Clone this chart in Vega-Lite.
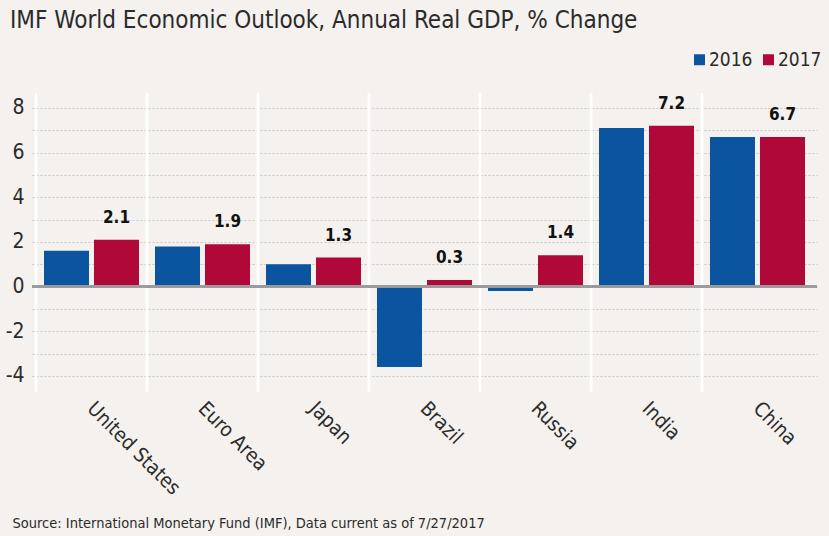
{
  "$schema": "https://vega.github.io/schema/vega-lite/v6.json",
  "width": 785,
  "height": 299,
  "autosize": {"type": "none"},
  "padding": {"left": 32, "top": 93, "right": 12, "bottom": 144},
  "background": "#f4f1ee",
  "config": {"view": {"stroke": null}, "font": "DejaVu Sans Condensed"},
  "title": {
    "text": "IMF World Economic Outlook, Annual Real GDP, % Change",
    "anchor": "start",
    "frame": "group",
    "dx": -22,
    "dy": 20,
    "offset": 18,
    "baseline": "alphabetic",
    "fontSize": 24,
    "fontWeight": "normal",
    "color": "#2b2b2b",
    "font": "DejaVu Sans Condensed"
  },
  "data": {
    "values": [
      {"region": "United States", "year": "2016", "value": 1.6},
      {"region": "United States", "year": "2017", "value": 2.1},
      {"region": "Euro Area", "year": "2016", "value": 1.8},
      {"region": "Euro Area", "year": "2017", "value": 1.9},
      {"region": "Japan", "year": "2016", "value": 1.0},
      {"region": "Japan", "year": "2017", "value": 1.3},
      {"region": "Brazil", "year": "2016", "value": -3.6},
      {"region": "Brazil", "year": "2017", "value": 0.3},
      {"region": "Russia", "year": "2016", "value": -0.2},
      {"region": "Russia", "year": "2017", "value": 1.4},
      {"region": "India", "year": "2016", "value": 7.1},
      {"region": "India", "year": "2017", "value": 7.2},
      {"region": "China", "year": "2016", "value": 6.7},
      {"region": "China", "year": "2017", "value": 6.7}
    ]
  },
  "encoding": {
    "x": {
      "field": "region",
      "type": "nominal",
      "sort": null,
      "scale": {"paddingInner": 0, "paddingOuter": 0.036},
      "axis": {
        "labelOffset": 6,
        "labelAngle": 45,
        "labelAlign": "left",
        "labelBaseline": "top",
        "labelPadding": 6,
        "labelFontSize": 20,
        "labelColor": "#2b2b2b",
        "domain": false,
        "ticks": false,
        "grid": false,
        "title": "Source: International Monetary Fund (IMF), Data current as of 7/27/2017",
        "titleX": -20,
        "titleY": 135,
        "titleAlign": "left",
        "titleAnchor": "start",
        "titleBaseline": "alphabetic",
        "titleFontSize": 14.5,
        "titleFontWeight": "normal",
        "titleColor": "#2b2b2b"
      }
    },
    "xOffset": {
      "field": "year",
      "type": "nominal",
      "scale": {"paddingInner": 0.1, "paddingOuter": 0.16}
    },
    "y": {
      "field": "value",
      "type": "quantitative",
      "scale": {"domain": [-4.72, 8.67], "nice": false, "zero": false},
      "axis": {
        "values": [-4, -3, -2, -1, 0, 1, 2, 3, 4, 5, 6, 7, 8],
        "labelExpr": "datum.value % 2 == 0 ? '' + datum.value : ''",
        "title": null,
        "domain": false,
        "ticks": false,
        "gridDash": [2, 2],
        "gridColor": "#c9c6c3",
        "gridWidth": 1.2,
        "labelFontSize": 21,
        "labelColor": "#2b2b2b",
        "labelPadding": 8
      }
    }
  },
  "layer": [
    {
      "mark": {"type": "rule", "color": "#ffffff", "strokeWidth": 2.5},
      "encoding": {
        "x": {"field": "region", "type": "nominal", "sort": null, "bandPosition": 0},
        "xOffset": null,
        "y": null
      }
    },
    {
      "mark": {"type": "bar"},
      "encoding": {
        "color": {
          "field": "year",
          "type": "nominal",
          "scale": {"range": ["#0b55a0", "#b00838"]},
          "legend": {
            "orient": "none",
            "legendX": 658,
            "legendY": -43,
            "direction": "horizontal",
            "title": null,
            "symbolType": "square",
            "symbolSize": 120,
            "symbolStrokeWidth": 0,
            "labelFontSize": 19,
            "labelColor": "#2b2b2b",
            "columnPadding": 6,
            "labelOffset": 0
          }
        }
      }
    },
    {
      "mark": {"type": "rule", "color": "#9a9a9a", "strokeWidth": 1.5},
      "encoding": {"y": {"datum": 0}, "x": null, "xOffset": null}
    },
    {
      "transform": [{"filter": "datum.year == '2017'"}],
      "mark": {"type": "text", "baseline": "bottom", "dy": -13, "fontSize": 17, "fontWeight": "bold", "color": "#111111"},
      "encoding": {"text": {"field": "value", "type": "quantitative", "format": ".1f"}}
    }
  ]
}
